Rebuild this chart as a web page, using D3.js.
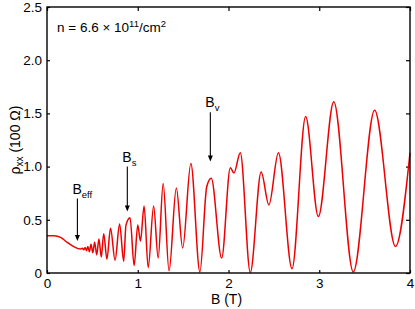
<!DOCTYPE html>
<html>
<head>
<meta charset="utf-8">
<script src="https://cdn.jsdelivr.net/npm/d3@7"></script>
<style>
  body { margin: 0; background: #fff; }
  text { font-family: "Liberation Sans", Arial, sans-serif; fill: #000; }
</style>
</head>
<body>
<div id="chart"></div>
<script>
// magnetic field B (T) and rho_xx (100 Ohm) at extrema / shoulders
var fieldB = [0, 0.08, 0.15, 0.22, 0.30, 0.37,
  0.39, 0.405, 0.42, 0.435, 0.45, 0.467, 0.485, 0.505, 0.525, 0.548,
  0.572, 0.598, 0.625, 0.66, 0.70, 0.75, 0.80, 0.845, 0.87, 0.915,
  0.96, 1.00, 1.03, 1.07, 1.115, 1.175, 1.225, 1.28, 1.345, 1.425,
  1.495, 1.585, 1.685, 1.76, 1.81, 1.925, 2.02, 2.06, 2.13, 2.24,
  2.36, 2.445, 2.55, 2.70, 2.85, 2.99, 3.16, 3.375, 3.61, 3.84, 4.0];
var rhoXX = [0.35, 0.35, 0.335, 0.29, 0.245, 0.225,
  0.232, 0.218, 0.24, 0.21, 0.25, 0.20, 0.27, 0.19, 0.29, 0.17,
  0.32, 0.15, 0.37, 0.13, 0.42, 0.12, 0.46, 0.11, 0.45, 0.52,
  0.07, 0.45, 0.30, 0.63, 0.05, 0.63, 0.14, 0.84, 0.02, 0.80,
  0.235, 1.03, 0.01, 0.81, 0.89, 0.14, 0.99, 0.94, 1.13, 0.005,
  0.95, 0.64, 1.13, 0.04, 1.47, 0.53, 1.61, 0.01, 1.53, 0.25, 1.13];

var xTicks = [0, 1, 2, 3, 4];
var yTicks = [0, 0.5, 1.0, 1.5, 2.0, 2.5];
var yTickLabels = ["0", "0.5", "1.0", "1.5", "2.0", "2.5"];

// arrows: label subscript, B position, start and tip (rho)
var arrowSub = ["eff", "s", "v"];
var arrowB = [0.335, 0.885, 1.80];
var arrowStart = [0.70, 1.0, 1.51];
var arrowTip = [0.30, 0.578, 1.047];

var W = 415, H = 309;
var margin = {top: 7, right: 5, bottom: 36, left: 47};
var width = W - margin.left - margin.right,
    height = H - margin.top - margin.bottom;

var svg = d3.select("#chart").append("svg")
    .attr("width", W)
    .attr("height", H);

var g = svg.append("g")
    .attr("transform", "translate(" + margin.left + "," + margin.top + ")");

var x = d3.scaleLinear().domain([0, 4]).range([0, width]);
var y = d3.scaleLinear().domain([0, 2.5]).range([height, 0]);

// axes, ticks pointing in
g.append("g")
    .attr("transform", "translate(0," + height + ")")
    .call(d3.axisBottom(x).tickValues(xTicks).tickSize(-3).tickSizeOuter(0).tickPadding(5).tickFormat(d3.format("d")));
g.append("g")
    .call(d3.axisLeft(y).tickValues(yTicks).tickSize(-3).tickSizeOuter(0).tickPadding(5)
      .tickFormat(function(d, i) { return yTickLabels[i]; }));
g.append("g")
    .call(d3.axisTop(x).tickValues(xTicks).tickSize(-4).tickSizeOuter(0).tickFormat(""));
g.append("g")
    .attr("transform", "translate(" + width + ",0)")
    .call(d3.axisRight(y).tickValues(yTicks).tickSize(-4).tickSizeOuter(0).tickFormat(""));

g.selectAll(".domain").remove();
g.selectAll(".tick line").attr("stroke", "#000").attr("stroke-width", 1.2);
g.selectAll(".tick text").style("font-size", "13.5px").attr("fill", "#000");

// curve
var pts = fieldB.map(function(b, i) { return [b, rhoXX[i]]; });
var line = d3.line()
    .x(function(d) { return x(d[0]); })
    .y(function(d) { return y(d[1]); })
    .curve(d3.curveMonotoneX);

g.append("path")
    .datum(pts)
    .attr("fill", "none")
    .attr("stroke", "#ee0000")
    .attr("stroke-width", 1.5)
    .attr("d", line);

// frame
g.append("rect")
    .attr("width", width)
    .attr("height", height)
    .attr("fill", "none")
    .attr("stroke", "#000")
    .attr("stroke-width", 1.4);

// arrows
arrowB.forEach(function(b, i) {
  var ax = x(b), y0 = y(arrowStart[i]), y1 = y(arrowTip[i]);
  g.append("line")
      .attr("x1", ax).attr("x2", ax)
      .attr("y1", y0).attr("y2", y1 - 4)
      .attr("stroke", "#000").attr("stroke-width", 1.1);
  g.append("path")
      .attr("d", "M" + (ax - 2.5) + "," + (y1 - 6) + "L" + (ax + 2.5) + "," + (y1 - 6) + "L" + ax + "," + y1 + "Z")
      .attr("fill", "#000");
  var t = g.append("text")
      .attr("x", ax - 5)
      .attr("y", y0 - 5)
      .style("font-size", "14px");
  t.append("tspan").text("B");
  t.append("tspan").attr("dy", 4).style("font-size", "9.5px").text(arrowSub[i]);
});

// density annotation
var note = g.append("text")
    .attr("x", 10)
    .attr("y", 25)
    .style("font-size", "13.5px");
note.append("tspan").text("n = 6.6 \u00d7 10");
note.append("tspan").attr("dy", -5).style("font-size", "9.5px").text("11");
note.append("tspan").attr("dy", 5).text("/cm");
note.append("tspan").attr("dy", -5).style("font-size", "9.5px").text("2");

// axis labels
g.append("text")
    .attr("x", width / 2 - 2)
    .attr("y", height + 31)
    .style("text-anchor", "middle")
    .style("font-size", "14px")
    .text("B (T)");

var yl = svg.append("text")
    .attr("transform", "translate(20," + (margin.top + height / 2) + ") rotate(-90)")
    .style("text-anchor", "middle")
    .style("font-size", "14px");
yl.append("tspan").text("\u03c1");
yl.append("tspan").attr("dy", 3).style("font-size", "10px").text("xx");
yl.append("tspan").attr("dy", -3).text(" (100 \u03a9)");
</script>
</body>
</html>
